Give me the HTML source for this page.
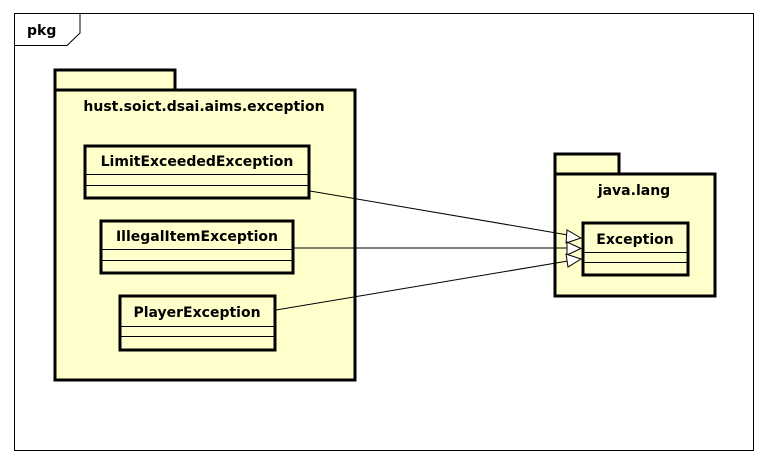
<!DOCTYPE html>
<html><head><style>html,body{margin:0;padding:0;background:#fff;}svg{display:block}</style></head>
<body>
<svg width="766" height="464" xmlns="http://www.w3.org/2000/svg" font-family="'DejaVu Sans','Liberation Sans',sans-serif" font-weight="bold" font-size="14">
<rect x="14.5" y="13.5" width="739" height="437" fill="#fff" stroke="#000" stroke-width="1"/>
<path d="M14.5 45.5 H67 L80 33 V13.5" fill="none" stroke="#000"/>
<text x="27" y="35" font-size="14">pkg</text>

<g stroke="#000" stroke-width="3" fill="#ffffcc">
<rect x="55" y="70" width="120" height="20"/>
<rect x="55" y="90" width="300" height="290"/>
<rect x="555" y="154" width="64" height="20"/>
<rect x="555" y="174" width="160" height="122"/>
<rect x="85" y="146" width="224" height="52"/>
<rect x="101" y="221" width="192" height="52"/>
<rect x="120" y="296" width="155" height="54"/>
<rect x="583" y="223" width="105" height="52"/>
</g>
<g stroke="#000" stroke-width="1">
<line x1="86" y1="174.5" x2="308" y2="174.5"/><line x1="86" y1="185.5" x2="308" y2="185.5"/>
<line x1="102" y1="249.5" x2="292" y2="249.5"/><line x1="102" y1="260.5" x2="292" y2="260.5"/>
<line x1="121" y1="326.5" x2="274" y2="326.5"/><line x1="121" y1="336.5" x2="274" y2="336.5"/>
<line x1="584" y1="252.5" x2="687" y2="252.5"/><line x1="584" y1="262.5" x2="687" y2="262.5"/>
<line x1="310" y1="191" x2="568" y2="235"/>
<line x1="294" y1="248" x2="568" y2="248"/>
<line x1="276" y1="310" x2="568" y2="261"/>
</g>
<g stroke="#000" stroke-width="1" fill="#fff">
<polygon points="581,238 567,230 566,243"/>
<polygon points="581,248.5 567,242 567,255"/>
<polygon points="581,259 566,254 568,267"/>
</g>
<g text-anchor="middle" fill="#000">
<text x="204" y="111">hust.soict.dsai.aims.exception</text>
<text x="634" y="195">java.lang</text>
<text x="197" y="166">LimitExceededException</text>
<text x="197" y="241">IllegalItemException</text>
<text x="197" y="317">PlayerException</text>
<text x="635" y="244">Exception</text>
</g>
</svg>
</body></html>
